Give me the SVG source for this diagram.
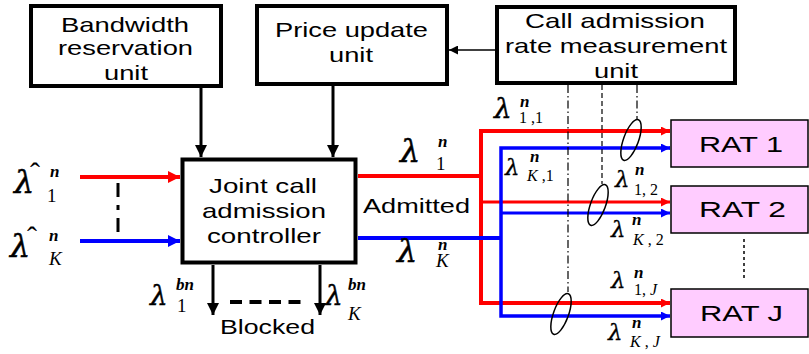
<svg xmlns="http://www.w3.org/2000/svg" width="809" height="354" viewBox="0 0 809 354">
<defs>
<style>
.box{fill:#fff;stroke:#000;stroke-width:4}
.rat{fill:#ffccff;stroke:#000;stroke-width:1.5}
.t{font-family:"Liberation Sans",Arial,sans-serif;font-size:21px;fill:#000}
.tr{font-family:"Liberation Sans",Arial,sans-serif;font-size:22px;fill:#000}
.lab{font-family:"Liberation Serif","Times New Roman",serif;fill:#000}
.lb{font-family:"DejaVu Serif","Liberation Serif",serif;font-style:italic;font-size:32px;stroke:#000;stroke-width:0.5}
.lm{font-family:"DejaVu Serif","Liberation Serif",serif;font-style:italic;font-size:28px;stroke:#000;stroke-width:0.4}
.ls{font-family:"DejaVu Serif","Liberation Serif",serif;font-style:italic;font-size:23px;stroke:#000;stroke-width:0.3}
.hat{font-size:30px}
.sp{font-style:italic;font-weight:bold;font-size:17px}
.sb{font-size:19px}
.sbs{font-size:16px}
.i{font-style:italic}
.r{stroke:#ff0000;fill:none}
.b{stroke:#0000ff;fill:none}
.k{stroke:#000;fill:none}
</style>
<marker id="ar" viewBox="0 0 10 10" refX="10" refY="5" markerWidth="17" markerHeight="12" markerUnits="userSpaceOnUse" orient="auto"><path d="M0,0L10,5L0,10z" fill="#ff0000"/></marker>
<marker id="ab" viewBox="0 0 10 10" refX="10" refY="5" markerWidth="17" markerHeight="12" markerUnits="userSpaceOnUse" orient="auto"><path d="M0,0L10,5L0,10z" fill="#0000ff"/></marker>
<marker id="sr" viewBox="0 0 10 10" refX="10" refY="5" markerWidth="13" markerHeight="9" markerUnits="userSpaceOnUse" orient="auto"><path d="M0,0L10,5L0,10z" fill="#ff0000"/></marker>
<marker id="sb" viewBox="0 0 10 10" refX="10" refY="5" markerWidth="13" markerHeight="9" markerUnits="userSpaceOnUse" orient="auto"><path d="M0,0L10,5L0,10z" fill="#0000ff"/></marker>
<marker id="ak" viewBox="0 0 10 10" refX="10" refY="5" markerWidth="12" markerHeight="12" markerUnits="userSpaceOnUse" orient="auto"><path d="M0,0L10,5L0,10z" fill="#000"/></marker>
<marker id="akt" viewBox="0 0 10 10" refX="10" refY="5" markerWidth="11" markerHeight="9" markerUnits="userSpaceOnUse" orient="auto"><path d="M0,0L10,5L0,10z" fill="#000"/></marker>
</defs>
<rect width="809" height="354" fill="#fff"/>

<g id="connectors">
<line class="k" x1="201" y1="88" x2="201" y2="157" stroke-width="3" marker-end="url(#ak)"/>
<line class="k" x1="333" y1="86" x2="333" y2="157" stroke-width="3" marker-end="url(#ak)"/>
<line class="k" x1="495" y1="50" x2="449" y2="50" stroke-width="1.5" marker-end="url(#akt)"/>
<line class="r" x1="80" y1="177" x2="180" y2="177" stroke-width="4" marker-end="url(#ar)"/>
<line class="b" x1="80" y1="241" x2="180" y2="241" stroke-width="4" marker-end="url(#ab)"/>
<line class="k" x1="118" y1="183" x2="118" y2="236" stroke-width="3" stroke-dasharray="14 8 5 8"/>
<line class="k" x1="213" y1="265" x2="213" y2="315" stroke-width="3" marker-end="url(#ak)"/>
<line class="k" x1="320" y1="265" x2="320" y2="315" stroke-width="3" marker-end="url(#ak)"/>
<line class="k" x1="230" y1="302" x2="303" y2="302" stroke-width="4" stroke-dasharray="12 7.5"/>
<polyline class="r" points="358,176 481,176" stroke-width="4"/>
<polyline class="r" points="670,131 481,131 481,303 670,303" stroke-width="4" marker-end="url(#sr)"/>
<line class="r" x1="669" y1="131" x2="670" y2="131" stroke-width="3" marker-end="url(#sr)"/>
<line class="r" x1="481" y1="202" x2="670" y2="202" stroke-width="3" marker-end="url(#sr)"/>
<polyline class="b" points="358,238 501,238" stroke-width="4"/>
<polyline class="b" points="670,148 501,148 501,316 670,316" stroke-width="3.5" marker-end="url(#sb)"/>
<line class="b" x1="669" y1="148" x2="670" y2="148" stroke-width="3" marker-end="url(#sb)"/>
<line class="b" x1="501" y1="213" x2="670" y2="213" stroke-width="3" marker-end="url(#sb)"/>
<line class="k" x1="568" y1="85" x2="568" y2="292" stroke-width="1.2" stroke-dasharray="8 3 1.5 3"/>
<line class="k" x1="602" y1="85" x2="602" y2="184" stroke-width="1.2" stroke-dasharray="5 3"/>
<line class="k" x1="637" y1="85" x2="637" y2="120" stroke-width="1.2" stroke-dasharray="8 3 1.5 3"/>
<ellipse class="k" cx="631" cy="140" rx="7.5" ry="21.5" transform="rotate(20 631 140)" stroke-width="1.5"/>
<ellipse class="k" cx="598" cy="205" rx="7.5" ry="21.5" transform="rotate(20 598 205)" stroke-width="1.5"/>
<ellipse class="k" cx="561" cy="314" rx="7.5" ry="21.5" transform="rotate(20 561 314)" stroke-width="1.5"/>
<line class="k" x1="744" y1="239" x2="744" y2="281" stroke-width="1.5" stroke-dasharray="3 3"/>
</g>

<g id="bandwidth">
<rect class="box" x="31" y="6" width="190" height="80"/>
<text class="t" x="61" y="32" textLength="128" lengthAdjust="spacingAndGlyphs">Bandwidth</text>
<text class="t" x="58" y="55" textLength="135" lengthAdjust="spacingAndGlyphs">reservation</text>
<text class="t" x="104" y="80" textLength="44" lengthAdjust="spacingAndGlyphs">unit</text>
</g>
<g id="price">
<rect class="box" x="257" y="6" width="190" height="78"/>
<text class="t" x="275" y="37" textLength="153" lengthAdjust="spacingAndGlyphs">Price update</text>
<text class="t" x="329" y="62" textLength="44" lengthAdjust="spacingAndGlyphs">unit</text>
</g>
<g id="measurement">
<rect class="box" x="497" y="7" width="238" height="76" stroke-width="3.5"/>
<text class="t" x="525" y="28" textLength="180" lengthAdjust="spacingAndGlyphs">Call admission</text>
<text class="t" x="505" y="53" textLength="222" lengthAdjust="spacingAndGlyphs">rate measurement</text>
<text class="t" x="594" y="78" textLength="44" lengthAdjust="spacingAndGlyphs">unit</text>
</g>
<g id="controller">
<rect class="box" x="182.5" y="159.5" width="173" height="103" stroke-width="5"/>
<text class="t" x="209" y="193" textLength="108" lengthAdjust="spacingAndGlyphs">Joint call</text>
<text class="t" x="202" y="218" textLength="124" lengthAdjust="spacingAndGlyphs">admission</text>
<text class="t" x="207" y="243" textLength="114" lengthAdjust="spacingAndGlyphs">controller</text>
</g>
<g id="rat1">
<rect class="rat" x="671" y="120" width="137" height="47"/>
<text class="tr" x="699" y="152" textLength="84" lengthAdjust="spacingAndGlyphs">RAT 1</text>
</g>
<g id="rat2">
<rect class="rat" x="671" y="186" width="137" height="47"/>
<text class="tr" x="699" y="217" textLength="87" lengthAdjust="spacingAndGlyphs">RAT 2</text>
</g>
<g id="ratJ">
<rect class="rat" x="671" y="289" width="137" height="48"/>
<text class="tr" x="700" y="321" textLength="83" lengthAdjust="spacingAndGlyphs">RAT J</text>
</g>

<g id="labels">
<text class="t" x="363" y="213" textLength="107" lengthAdjust="spacingAndGlyphs" font-size="20">Admitted</text>
<text class="t" x="220" y="334" textLength="95" lengthAdjust="spacingAndGlyphs" font-size="20">Blocked</text>

<text class="lab"><tspan class="lb" x="14" y="193">λ</tspan><tspan class="hat" x="30" y="183">ˆ</tspan><tspan class="sp" x="50" y="177">n</tspan><tspan class="sb" x="47" y="202">1</tspan></text>
<text class="lab"><tspan class="lb" x="10" y="257">λ</tspan><tspan class="hat" x="27" y="247">ˆ</tspan><tspan class="sp" x="49" y="241">n</tspan><tspan class="sb i" x="49" y="265">K</tspan></text>
<text class="lab"><tspan class="lb" x="400" y="162">λ</tspan><tspan class="sp" x="438" y="147">n</tspan><tspan class="sb" x="436" y="170">1</tspan></text>
<text class="lab"><tspan class="lb" x="397" y="262">λ</tspan><tspan class="sp" x="438" y="250">n</tspan><tspan class="sb i" x="436" y="267">K</tspan></text>
<text class="lab"><tspan class="lm" x="494" y="118">λ</tspan><tspan class="sp" x="520" y="107">n</tspan><tspan class="sbs" x="519" y="123">1 ,1</tspan></text>
<text class="lab"><tspan class="ls" x="505" y="175">λ</tspan><tspan class="sp" x="530" y="162">n</tspan><tspan class="sbs i" x="527" y="181">K</tspan><tspan class="sbs"> ,1</tspan></text>
<text class="lab"><tspan class="ls" x="615" y="187">λ</tspan><tspan class="sp" x="635" y="175">n</tspan><tspan class="sbs" x="634" y="195">1, 2</tspan></text>
<text class="lab"><tspan class="ls" x="611" y="237">λ</tspan><tspan class="sp" x="632" y="225">n</tspan><tspan class="sbs i" x="633" y="245">K</tspan><tspan class="sbs"> , 2</tspan></text>
<text class="lab"><tspan class="ls" x="611" y="288">λ</tspan><tspan class="sp" x="634" y="278">n</tspan><tspan class="sbs" x="634" y="295">1, </tspan><tspan class="sbs i">J</tspan></text>
<text class="lab"><tspan class="ls" x="608" y="340">λ</tspan><tspan class="sp" x="632" y="328">n</tspan><tspan class="sbs i" x="630" y="347">K</tspan><tspan class="sbs"> , </tspan><tspan class="sbs i">J</tspan></text>
<text class="lab"><tspan class="lm" x="150" y="305">λ</tspan><tspan class="sp" x="176" y="290">bn</tspan><tspan class="sb" x="177" y="312">1</tspan></text>
<text class="lab"><tspan class="lm" x="325" y="305">λ</tspan><tspan class="sp" x="348" y="290">bn</tspan><tspan class="sb i" x="348" y="320">K</tspan></text>
</g>
</svg>
